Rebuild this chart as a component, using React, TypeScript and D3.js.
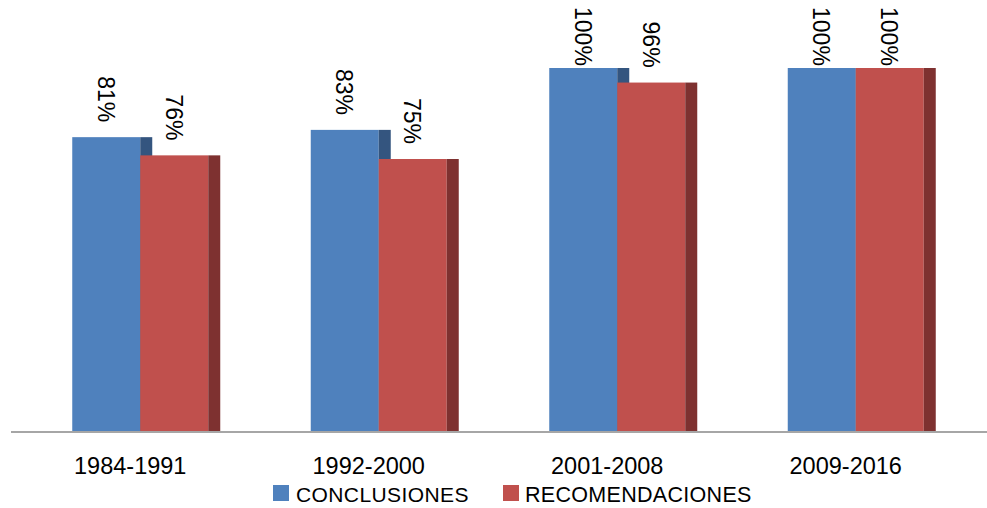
import React from "react";
import * as d3 from "d3";

const categories = ["1984-1991", "1992-2000", "2001-2008", "2009-2016"];
const conclusiones = [81, 83, 100, 100];
const recomendaciones = [76, 75, 96, 100];
const seriesNames = ["CONCLUSIONES", "RECOMENDACIONES"];

const W = 987;
const H = 508;
const FONT = "'Liberation Sans', Arial, sans-serif";

export default function App() {
  const x0 = d3.scaleBand<string>().domain(categories).range([11, 965]).padding(0);
  const y = d3.scaleLinear().domain([0, 100]).range([432, 68]);
  const barW = 68;
  const sideW = 12;
  const series = [
    { name: seriesNames[0], values: conclusiones, front: "#4F81BD", side: "#34557F" },
    { name: seriesNames[1], values: recomendaciones, front: "#C0504D", side: "#7E3130" },
  ];
  const groupLeft = (c: string) => (x0(c) as number) + x0.bandwidth() / 2 - 58;

  return (
    <svg width={W} height={H} style={{ position: "absolute", left: 0, top: 0, display: "block" }}>
      <rect x={0} y={0} width={W} height={H} fill="#fff" />
      {categories.map((c, i) => {
        const gx = groupLeft(c);
        return (
          <g key={c}>
            {series.map((s, si) => {
              const bx = gx + si * barW;
              const top = y(s.values[i]);
              return (
                <g key={s.name}>
                  <rect x={bx} y={top} width={barW} height={y(0) - top} fill={s.front} />
                  <rect x={bx + barW} y={top} width={sideW} height={y(0) - top} fill={s.side} />
                </g>
              );
            })}
          </g>
        );
      })}
      {categories.map((c, i) => {
        const gx = groupLeft(c);
        return (
          <g key={c + "-lab"}>
            {series.map((s, si) => {
              const cx = gx + si * barW + barW / 2;
              const ty = y(s.values[i]) - 61;
              return (
                <text
                  key={s.name}
                  transform={`translate(${cx},${ty}) rotate(90)`}
                  dy="0.36em"
                  fontFamily={FONT}
                  fontSize={23}
                  fill="#000"
                >
                  {s.values[i]}%
                </text>
              );
            })}
          </g>
        );
      })}
      <line x1={11} x2={W} y1={432} y2={432} stroke="#A6A6A6" strokeWidth={2} />
      {categories.map((c) => (
        <text
          key={c + "-x"}
          x={(x0(c) as number) + x0.bandwidth() / 2}
          y={474}
          textAnchor="middle"
          fontFamily={FONT}
          fontSize={23.5}
          fill="#000"
        >
          {c}
        </text>
      ))}
      <g>
        <rect x={273} y={485} width={16} height={16} fill={series[0].front} />
        <text x={296} y={502} fontFamily={FONT} fontSize={21} letterSpacing={0.4} fill="#000">
          {series[0].name}
        </text>
        <rect x={503} y={485} width={16} height={16} fill={series[1].front} />
        <text x={525} y={502} fontFamily={FONT} fontSize={21.5} letterSpacing={0.3} fill="#000">
          {series[1].name}
        </text>
      </g>
    </svg>
  );
}
